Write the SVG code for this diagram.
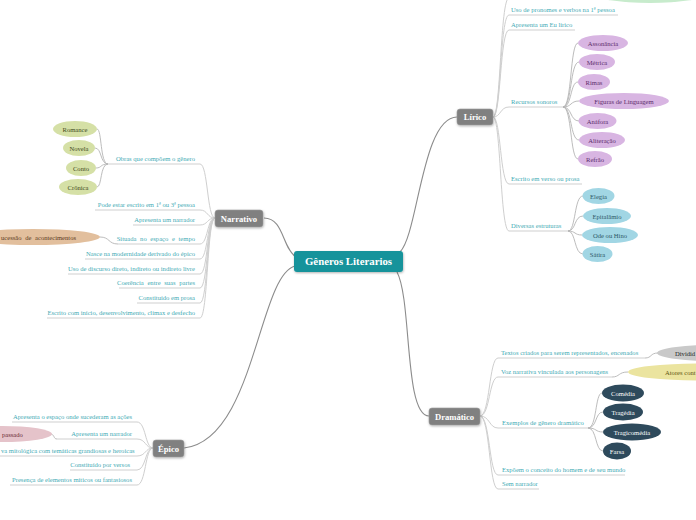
<svg xmlns="http://www.w3.org/2000/svg" width="696" height="520" viewBox="0 0 696 520">
<defs>
<style>
.lbl{font-family:"Liberation Serif","DejaVu Serif",serif;font-size:6.6px;fill:#3fabb5}
.end{text-anchor:end}
.et{font-family:"Liberation Serif","DejaVu Serif",serif;font-size:6.6px;text-anchor:middle}
.ul{stroke:#cfcfcf;fill:none;stroke-width:1}
.cn{stroke:#b4b4b4;fill:none;stroke-width:0.9}
.mn{stroke:#8c8c8c;fill:none;stroke-width:1.1}
.box{fill:#808080;stroke:#9a9a9a;stroke-width:0.6}
.bt{font-family:"Liberation Serif","DejaVu Serif",serif;font-size:8.6px;font-weight:bold;fill:#fff;text-anchor:middle}
.pu{fill:#d8b5e2}.put{fill:#5b2d6b}
.bl{fill:#a1d6e4}.blt{fill:#2d5866}
.gr{fill:#d5e0a6}.grt{fill:#3d4a20}
.dk{fill:#2e4a5c}.dkt{fill:#fff}
</style>
<filter id="sh" x="-20%" y="-20%" width="140%" height="160%">
<feDropShadow dx="0.5" dy="1" stdDeviation="0.8" flood-color="#000" flood-opacity="0.3"/>
</filter>
</defs>
<rect width="696" height="520" fill="#fff"/>

<g id="connectors">
<path class="mn" d="M296,257 C282,248 284,218 264,218"/>
<path class="mn" d="M295,266 C258,276 255,440 184,448"/>
<path class="mn" d="M400,252 C418,235 422,117 457,117"/>
<path class="mn" d="M397,272 C412,300 404,416 429,416"/>
<path class="ul" d="M493,117 C501,117 500,-2 509,-2 H600"/>
<path class="ul" d="M493,117 C501,117 500,15 509,15 H618"/>
<path class="ul" d="M493,117 C501,117 500,30 509,30 H575"/>
<path class="ul" d="M493,117 C501,117 500,107 509,107 H563"/>
<path class="ul" d="M493,117 C501,117 500,184 509,184 H582"/>
<path class="ul" d="M493,117 C501,117 500,231 509,231 H568"/>
<path class="cn" d="M563,107 C572,107 570,43 578,43"/>
<path class="cn" d="M563,107 C572,107 570,62 579,62"/>
<path class="cn" d="M563,107 C572,107 570,82 578,82"/>
<path class="cn" d="M563,107 C572,107 570,101 579,101"/>
<path class="cn" d="M563,107 C572,107 570,121 579,121"/>
<path class="cn" d="M563,107 C572,107 570,140 579,140"/>
<path class="cn" d="M563,107 C572,107 570,159 578,159"/>
<path class="cn" d="M568,231 C576,231 574,196 583,196"/>
<path class="cn" d="M568,231 C576,231 574,216 583,216"/>
<path class="cn" d="M568,231 C576,231 574,235 582,235"/>
<path class="cn" d="M568,231 C576,231 574,254 583,254"/>
<path class="ul" d="M215,218 C207,218 208,164 200,164 H108"/>
<path class="ul" d="M215,218 C207,218 208,210 200,210 H95"/>
<path class="ul" d="M215,218 C207,218 208,225 200,225 H133"/>
<path class="ul" d="M215,218 C207,218 208,244 200,244 H118"/>
<path class="ul" d="M215,218 C207,218 208,259 200,259 H85"/>
<path class="ul" d="M215,218 C207,218 208,274 200,274 H68"/>
<path class="ul" d="M215,218 C207,218 208,288 200,288 H119"/>
<path class="ul" d="M215,218 C207,218 208,303 200,303 H137"/>
<path class="ul" d="M215,218 C207,218 208,318 200,318 H47"/>
<path class="cn" d="M108,164 C100,164 102,129 97,129"/>
<path class="cn" d="M108,164 C100,164 102,148 95,148"/>
<path class="cn" d="M108,164 C100,164 102,168 96,168"/>
<path class="cn" d="M108,164 C100,164 102,187 97,187"/>
<path class="cn" d="M118,244 C108,244 110,237 100,237"/>
<path class="ul" d="M153,448 C145,448 146,422 137,422 H12"/>
<path class="ul" d="M153,448 C145,448 146,439 137,439 H57"/>
<path class="ul" d="M153,448 C145,448 146,456 137,456 H-5"/>
<path class="ul" d="M153,448 C145,448 146,470 137,470 H70"/>
<path class="ul" d="M153,448 C145,448 146,485 137,485 H10"/>
<path class="cn" d="M57,439 C53,439 55,434 50,434"/>
<path class="ul" d="M480,416 C490,416 489,358 498,358 H645"/>
<path class="ul" d="M480,416 C490,416 489,377 498,377 H612"/>
<path class="ul" d="M480,416 C490,416 489,428 498,428 H588"/>
<path class="ul" d="M480,416 C490,416 489,475 498,475 H625"/>
<path class="ul" d="M480,416 C490,416 489,489 498,489 H539"/>
<path class="cn" d="M645,358 C652,358 650,353 658,353"/>
<path class="cn" d="M612,377 C620,377 618,372 628,372"/>
<path class="cn" d="M588,428 C597,428 595,393 602,393"/>
<path class="cn" d="M588,428 C597,428 595,412 603,412"/>
<path class="cn" d="M588,428 C597,428 595,432 603,432"/>
<path class="cn" d="M588,428 C597,428 595,451 603,451"/>
</g>

<g id="center">
<rect x="294" y="251" width="109" height="21" rx="3" fill="#17939b" filter="url(#sh)"/>
<text x="348.5" y="265" class="bt" style="font-size:10.8px">Gêneros Literarios</text>
</g>
<g id="narrativo">
<rect class="box" x="215" y="210" width="48" height="17" rx="3" filter="url(#sh)"/>
<text x="239" y="221.5" class="bt">Narrativo</text>
</g>
<g id="lirico">
<rect class="box" x="457" y="109" width="36" height="16" rx="3" filter="url(#sh)"/>
<text x="475" y="120" class="bt">Lírico</text>
</g>
<g id="dramatico">
<rect class="box" x="429" y="408" width="51" height="17" rx="3" filter="url(#sh)"/>
<text x="454.5" y="419.5" class="bt">Dramático</text>
</g>
<g id="epico">
<rect class="box" x="153" y="440" width="31" height="17" rx="3" filter="url(#sh)"/>
<text x="168.5" y="451.5" class="bt">Épico</text>
</g>

<g id="lirico-top"><ellipse cx="650" cy="-6" rx="56" ry="9" fill="#c7ebcc"/></g>
<g id="l1"><text class="lbl" x="511" y="12">Uso de pronomes e verbos na 1ª pessoa</text></g>
<g id="l2"><text class="lbl" x="511" y="27">Apresenta um Eu lírico</text></g>
<g id="l3"><text class="lbl" x="511" y="103.5">Recursos sonoros</text></g>
<g id="l4"><text class="lbl" x="511" y="180.5">Escrito em verso ou prosa</text></g>
<g id="l5"><text class="lbl" x="511" y="227.5">Diversas estruturas</text></g>
<g id="assonancia"><ellipse class="pu" cx="603" cy="43" rx="25" ry="8"/><text class="et put" x="603" y="45.5">Assonância</text></g>
<g id="metrica"><ellipse class="pu" cx="597" cy="62" rx="18" ry="8"/><text class="et put" x="597" y="64.5">Métrica</text></g>
<g id="rimas"><ellipse class="pu" cx="594" cy="82" rx="16" ry="8"/><text class="et put" x="594" y="84.5">Rimas</text></g>
<g id="figuras"><ellipse class="pu" cx="624" cy="101" rx="45" ry="8"/><text class="et put" x="624" y="103.5">Figuras de Linguagem</text></g>
<g id="anafora"><ellipse class="pu" cx="597.5" cy="121" rx="19" ry="8"/><text class="et put" x="597.5" y="123.5">Anáfora</text></g>
<g id="aliteracao"><ellipse class="pu" cx="602" cy="140" rx="23" ry="8"/><text class="et put" x="602" y="142.5">Aliteração</text></g>
<g id="refrao"><ellipse class="pu" cx="595" cy="159" rx="17" ry="8"/><text class="et put" x="595" y="161.5">Refrão</text></g>
<g id="elegia"><ellipse class="bl" cx="598.5" cy="196" rx="16" ry="8"/><text class="et blt" x="598.5" y="198.5">Elegia</text></g>
<g id="epitalamio"><ellipse class="bl" cx="607" cy="216" rx="24" ry="8"/><text class="et blt" x="607" y="218.5">Epitalâmio</text></g>
<g id="ode"><ellipse class="bl" cx="610" cy="235" rx="28" ry="8"/><text class="et blt" x="610" y="237.5">Ode ou Hino</text></g>
<g id="satira"><ellipse class="bl" cx="597.5" cy="254" rx="15" ry="8"/><text class="et blt" x="597.5" y="256.5">Sátira</text></g>

<g id="n1"><text class="lbl end" x="195" y="160.5">Obras que compõem o gênero</text></g>
<g id="n2"><text class="lbl end" x="195" y="207">Pode estar escrito em 1ª ou 3ª pessoa</text></g>
<g id="n3"><text class="lbl end" x="195" y="222">Apresenta um narrador</text></g>
<g id="n4"><text class="lbl end" x="195" y="240.5" style="word-spacing:2px">Situada no espaço e tempo</text></g>
<g id="n5"><text class="lbl end" x="195" y="256">Nasce na modernidade derivado do épico</text></g>
<g id="n6"><text class="lbl end" x="195" y="270.5">Uso de discurso direto, indireto ou indireto livre</text></g>
<g id="n7"><text class="lbl end" x="195" y="285" style="word-spacing:2px">Coerência entre suas partes</text></g>
<g id="n8"><text class="lbl end" x="195" y="299.5">Constituído em prosa</text></g>
<g id="n9"><text class="lbl end" x="195" y="314.5">Escrito com início, desenvolvimento, clímax e desfecho</text></g>
<g id="romance"><ellipse class="gr" cx="75" cy="129" rx="22" ry="8"/><text class="et grt" x="75" y="131.5">Romance</text></g>
<g id="novela"><ellipse class="gr" cx="79" cy="148" rx="16" ry="8"/><text class="et grt" x="79" y="150.5">Novela</text></g>
<g id="conto"><ellipse class="gr" cx="81" cy="168" rx="15" ry="8"/><text class="et grt" x="81" y="170.5">Conto</text></g>
<g id="cronica"><ellipse class="gr" cx="78" cy="187" rx="19" ry="8"/><text class="et grt" x="78" y="189.5">Crônica</text></g>
<g id="sucessao"><ellipse cx="33" cy="237" rx="67" ry="8" fill="#e2bf9d"/><text class="et" x="1" y="239.5" style="text-anchor:start;fill:#5a3a22;word-spacing:2px">ucessão de acontecimentos</text></g>

<g id="e1"><text class="lbl end" x="132" y="419">Apresenta o espaço onde sucederam as ações</text></g>
<g id="e2"><text class="lbl end" x="132" y="436">Apresenta um narrador</text></g>
<g id="e3"><text class="lbl" x="1" y="453">va mitológica com temáticas grandiosas e heroicas</text></g>
<g id="e4"><text class="lbl end" x="130" y="467">Constituído por versos</text></g>
<g id="e5"><text class="lbl end" x="132" y="482">Presença de elementos míticos ou fantasiosos</text></g>
<g id="passado"><ellipse cx="2" cy="434" rx="50" ry="8" fill="#e5c3ca"/><text class="et" x="2" y="436.5" style="text-anchor:start;fill:#6a2a35">passado</text></g>

<g id="d1"><text class="lbl" x="501" y="355">Textos criados para serem representados, encenados</text></g>
<g id="d2"><text class="lbl" x="501" y="374">Voz narrativa vinculada aos personagens</text></g>
<g id="d3"><text class="lbl" x="502" y="424.5">Exemplos de gênero dramático</text></g>
<g id="d4"><text class="lbl" x="502" y="471.5">Expõem o conceito do homem e de seu mundo</text></g>
<g id="d5"><text class="lbl" x="502" y="486">Sem narrador</text></g>
<g id="dividido"><ellipse cx="722" cy="353" rx="65" ry="8.5" fill="#c9c9c9"/><text class="et" x="675" y="355.5" style="text-anchor:start;fill:#222">Dividid</text></g>
<g id="atores"><ellipse cx="700" cy="372" rx="72" ry="8.5" fill="#ebe49f"/><text class="et" x="665" y="374.5" style="text-anchor:start;fill:#5e5512">Atores cont</text></g>
<g id="comedia"><ellipse class="dk" cx="623" cy="393" rx="21" ry="8.5"/><text class="et dkt" x="623" y="395.5">Comédia</text></g>
<g id="tragedia"><ellipse class="dk" cx="623" cy="412" rx="20" ry="8.5"/><text class="et dkt" x="623" y="414.5">Tragédia</text></g>
<g id="tragicomedia"><ellipse class="dk" cx="632" cy="432" rx="29" ry="8.5"/><text class="et dkt" x="632" y="434.5">Tragicomédia</text></g>
<g id="farsa"><ellipse class="dk" cx="617" cy="451" rx="14" ry="8.5"/><text class="et dkt" x="617" y="453.5">Farsa</text></g>
</svg>
